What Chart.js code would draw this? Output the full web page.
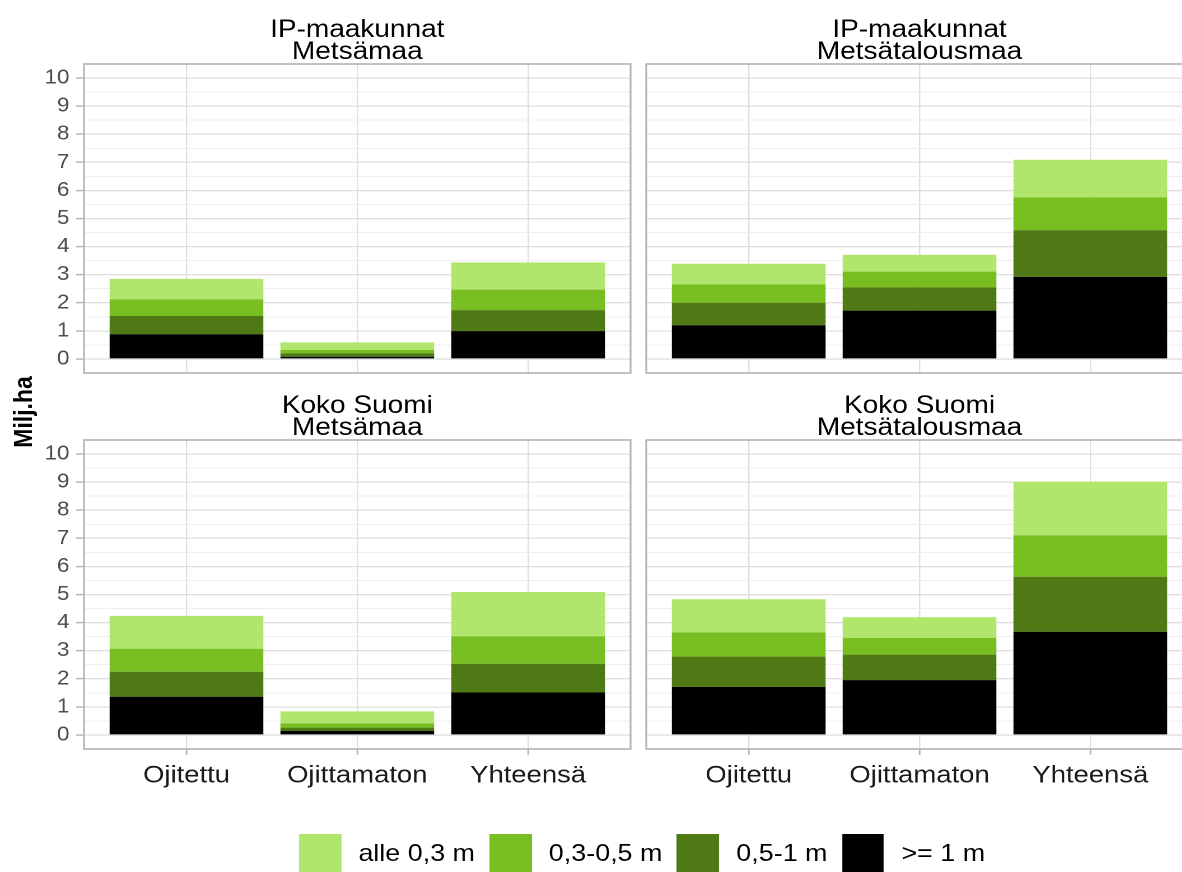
<!DOCTYPE html>
<html>
<head>
<meta charset="utf-8">
<script src="https://cdn.jsdelivr.net/npm/chart.js@4.4.1/dist/chart.umd.min.js"></script>
<style>
  html, body { margin: 0; padding: 0; background: #fff; overflow: hidden; }
  /* the reference is a bit wider than it is tall, so draw narrow and stretch */
  #wrap { position: absolute; left: 0; top: 0; width: 1070px; height: 872px;
          transform: scaleX(1.12); transform-origin: 0 0;
          font-family: "Liberation Sans", Arial, sans-serif; }
  #wrap canvas { position: absolute; }
  #ytitle { position: absolute; left: 20.6px; top: 412px; transform: translate(-50%, -50%) rotate(-90deg);
            font-weight: bold; font-size: 23px; white-space: nowrap; color: #000; }
  #legend { position: absolute; left: 267px; top: 834px; display: flex; align-items: center; }
  .key { width: 37.5px; height: 38px; margin-right: 15.5px; }
  .lab { font-size: 24px; margin-right: 13px; color: #000; }
</style>
</head>
<body>
<div id="wrap">
  <div id="ytitle">Milj.ha</div>
  <div id="legend"></div>
</div>
<script>
const categories = ['Ojitettu', 'Ojittamaton', 'Yhteensä'];
// stacking order, bottom first
const seriesNames = ['>= 1 m', '0,5-1 m', '0,3-0,5 m', 'alle 0,3 m'];
const seriesColors = ['#000000', '#4e7914', '#79be20', '#b0e66c'];
const yBreaks = [0, 0.5, 1, 1.5, 2, 2.5, 3, 3.5, 4, 4.5, 5, 5.5, 6, 6.5, 7, 7.5, 8, 8.5, 9, 9.5, 10];

// IP-maakunnat, Metsämaa
const ipMetsa_yli1 = [0.88, 0.08, 0.99];
const ipMetsa_05_1 = [0.65, 0.12, 0.75];
const ipMetsa_03_05 = [0.59, 0.12, 0.73];
const ipMetsa_alle03 = [0.73, 0.27, 0.97];

// IP-maakunnat, Metsätalousmaa
const ipTal_yli1 = [1.20, 1.72, 2.92];
const ipTal_05_1 = [0.80, 0.83, 1.66];
const ipTal_03_05 = [0.65, 0.56, 1.17];
const ipTal_alle03 = [0.74, 0.60, 1.34];

// Koko Suomi, Metsämaa
const kokoMetsa_yli1 = [1.36, 0.14, 1.51];
const kokoMetsa_05_1 = [0.89, 0.12, 1.02];
const kokoMetsa_03_05 = [0.82, 0.15, 0.98];
const kokoMetsa_alle03 = [1.17, 0.43, 1.58];

// Koko Suomi, Metsätalousmaa
const kokoTal_yli1 = [1.71, 1.95, 3.67];
const kokoTal_05_1 = [1.08, 0.91, 1.96];
const kokoTal_03_05 = [0.86, 0.59, 1.48];
const kokoTal_alle03 = [1.18, 0.74, 1.91];

Chart.defaults.font.family = '"Liberation Sans", Arial, sans-serif';

const panelBorder = {
    id: 'panelBorder',
    afterDraw(chart) {
        const a = chart.chartArea;
        const ctx = chart.ctx;
        ctx.save();
        ctx.strokeStyle = '#b3b3b3';
        ctx.lineWidth = 1.6;
        ctx.strokeRect(a.left, a.top, a.right - a.left, a.bottom - a.top);
        ctx.restore();
    }
};

function makePanel(left, top, title, values, showY, showX) {
    const yW = showY ? 75 : 4;
    const xH = showX ? 50 : 20;
    const canvas = document.createElement('canvas');
    canvas.width = yW + 488 + 4;
    canvas.height = 51 + 309 + xH;
    canvas.style.left = left + 'px';
    canvas.style.top = (top - 2) + 'px';
    document.getElementById('wrap').appendChild(canvas);

    new Chart(canvas.getContext('2d'), {
        type: 'bar',
        data: {
            datasets: values.map((vals, i) => ({
                label: seriesNames[i],
                data: vals.map((v, j) => ({ x: j, y: v })),
                backgroundColor: seriesColors[i],
                borderWidth: 0,
                barPercentage: 0.9,
                categoryPercentage: 1
            }))
        },
        options: {
            responsive: false,
            animation: false,
            devicePixelRatio: 2,
            layout: { padding: { right: 4 } },
            plugins: {
                legend: { display: false },
                tooltip: { enabled: false },
                title: {
                    display: true,
                    text: title,
                    fullSize: false,
                    color: '#000',
                    font: { size: 25, weight: 'normal', lineHeight: '22px' },
                    padding: { top: 6, bottom: 1 }
                }
            },
            scales: {
                x: {
                    type: 'linear',
                    stacked: true,
                    offset: false,
                    min: -0.6,
                    max: 2.6,
                    afterBuildTicks: (s) => { s.ticks = categories.map((c, j) => ({ value: j })); },
                    afterFit: (s) => { s.height = xH; },
                    border: { display: false },
                    grid: {
                        offset: false,
                        color: '#dedede',
                        lineWidth: 1.2,
                        drawTicks: showX,
                        tickLength: 6,
                        tickColor: '#b3b3b3',
                        tickWidth: 1.4
                    },
                    ticks: {
                        display: showX,
                        autoSkip: false,
                        maxRotation: 0,
                        padding: 6,
                        color: '#1a1a1a',
                        font: { size: 24.5 },
                        callback: (v) => categories[v]
                    }
                },
                y: {
                    stacked: true,
                    min: -0.5,
                    max: 10.5,
                    afterBuildTicks: (s) => { s.ticks = yBreaks.map(v => ({ value: v })); },
                    afterFit: (s) => { s.width = yW; },
                    border: { display: false },
                    grid: {
                        color: (c) => (c.tick && c.tick.value % 1 === 0) ? '#dedede' : '#efefef',
                        lineWidth: (c) => (c.tick && c.tick.value % 1 === 0) ? 1.2 : 1,
                        drawTicks: showY,
                        tickLength: 7,
                        tickColor: (c) => (c.tick && c.tick.value % 1 === 0) ? '#b3b3b3' : 'rgba(0,0,0,0)',
                        tickWidth: 1.4
                    },
                    ticks: {
                        display: showY,
                        autoSkip: false,
                        padding: 6,
                        color: '#4d4d4d',
                        font: { size: 20 },
                        callback: (v) => (v % 1 === 0 ? String(v) : '')
                    }
                }
            }
        },
        plugins: [panelBorder]
    });
}

makePanel(0, 15, ['IP-maakunnat', 'Metsämaa'],
    [ipMetsa_yli1, ipMetsa_05_1, ipMetsa_03_05, ipMetsa_alle03], true, false);
makePanel(573, 15, ['IP-maakunnat', 'Metsätalousmaa'],
    [ipTal_yli1, ipTal_05_1, ipTal_03_05, ipTal_alle03], false, false);
makePanel(0, 391, ['Koko Suomi', 'Metsämaa'],
    [kokoMetsa_yli1, kokoMetsa_05_1, kokoMetsa_03_05, kokoMetsa_alle03], true, true);
makePanel(573, 391, ['Koko Suomi', 'Metsätalousmaa'],
    [kokoTal_yli1, kokoTal_05_1, kokoTal_03_05, kokoTal_alle03], false, true);

// legend, top series first like in the reference
const legend = document.getElementById('legend');
for (let i = seriesNames.length - 1; i >= 0; i--) {
    const key = document.createElement('div');
    key.className = 'key';
    key.style.background = seriesColors[i];
    const lab = document.createElement('div');
    lab.className = 'lab';
    lab.textContent = seriesNames[i];
    legend.appendChild(key);
    legend.appendChild(lab);
}
</script>
</body>
</html>
